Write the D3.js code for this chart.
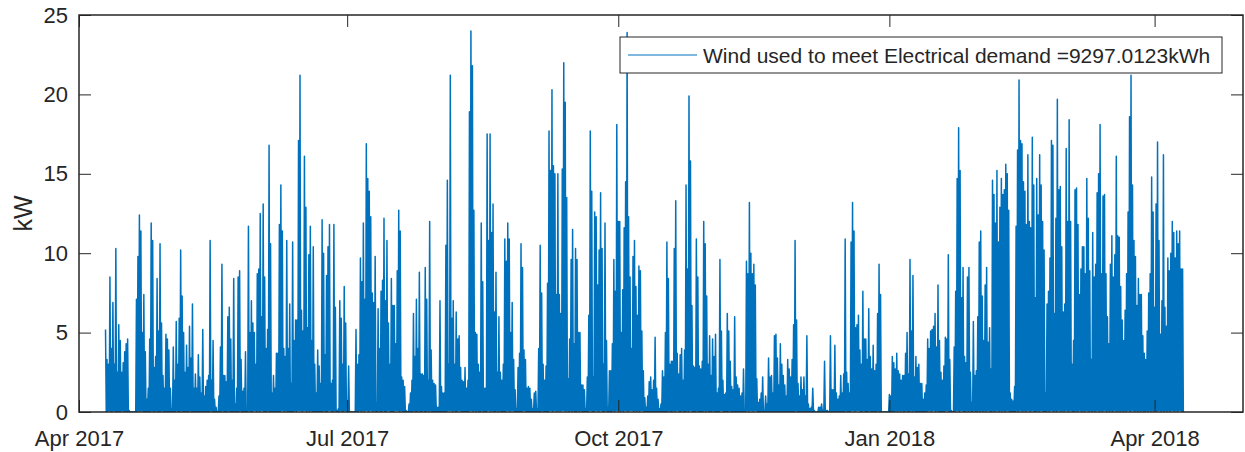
<!DOCTYPE html>
<html>
<head>
<meta charset="utf-8">
<script src="https://cdn.jsdelivr.net/npm/d3@7"></script>
<style>
  body { margin: 0; background: #fff; }
  text { font-family: Arial, "Liberation Sans", Helvetica, sans-serif; fill: #262626; }
</style>
</head>
<body>
<div class="canvas"></div>
<script>
// wind power used for the electrical demand (kW), one value every 6 hours:
// each pair is a half-day peak followed by the dip after it
const apr17 = [5.2,0, 3.3,0, 3.0,0.1, 8.5,0, 4.0,0, 6.9,0.1, 3.0,0, 10.3,0, 2.5,0, 5.5,0,
  4.5,0, 2.5,0.1, 3.1,0, 3.8,0, 4.3,0, 4.6,0, 0.1,0, 0,0, 0,0, 0,0, 0,0, 7.1,0, 9.8,0.1,
  12.4,0, 11.4,0.1, 5.0,0, 7.4,0, 3.8,0, 0.8,0, 1.5,0, 4.6,0, 11.9,0.1, 10.8,0, 2.8,0,
  3.5,0.1, 8.4,0, 5.1,0, 10.6,0, 5.6,0.1, 2.3,0, 1.5,0, 4.9,0]; // from 10 Apr
const may17 = [4.6,0, 3.9,0, 1.5,0, 0.2,0, 4.1,0, 2.0,0, 5.7,0.1, 3.0,0, 5.9,0, 10.2,0.1,
  7.3,0, 5.0,0, 2.5,0, 4.2,0, 2.8,0, 5.4,0.1, 3.4,0, 6.8,0, 1.5,0, 2.4,0, 1.5,0,
  3.6,0, 2.2,0, 1.2,0, 5.2,0, 1.0,0, 1.6,0, 2.0,0, 2.3,0, 10.8,0.1, 2.0,0, 4.5,0,
  0.8,0, 0.3,0, 0,0, 1.0,0, 4.1,0, 9.3,0.1, 2.3,0, 2.3,0, 1.9,0, 6.0,0.1, 6.6,0, 4.6,0,
  2.0,0, 8.4,0, 0.5,0, 1.5,0, 8.5,0, 8.9,0.1, 3.3,0, 1.3,0, 1.5,0, 3.8,0, 0.1,0,
  11.7,0.1, 5.0,0, 7.0,0, 5.6,0.1, 5.0,0.1, 3.0,0, 8.7,0.1];
const jun17 = [9.0,0, 12.5,0.1, 6.0,0.1, 13.1,0, 8.5,0, 4.0,0, 5.2,0.1, 16.8,0, 10.6,0,
  1.2,0, 2.3,0, 1.5,0, 3.7,0, 3.7,0, 11.8,0, 14.3,0.1, 11.4,0.1, 4.0,0, 3.5,0.1, 10.8,0,
  4.0,0, 6.8,0, 1.8,0, 10.7,0, 4.5,0.1, 5.8,0, 5.8,0.1, 17.1,0.1, 21.2,0.1, 6.4,0, 5.1,0.1,
  16.1,0.1, 12.9,0, 5.3,0.1, 9.9,0, 11.7,0.1, 4.5,0, 10.4,0, 3.0,0, 1.2,0, 3.9,0,
  2.9,0, 1.8,0, 12.1,0, 10.0,0.1, 3.6,0, 8.6,0, 10.4,0.1, 11.8,0.1, 1.8,0, 2.0,0,
  11.8,0.1, 6.6,0, 0.1,0, 0.2,0, 7.0,0.1, 5.9,0, 3.0,0, 7.9,0.1, 5.6,0];
const jul17 = [0.7,0, 2.9,0, 0,0, 0,0, 0,0, 0,0, 5.2,0, 3.0,0, 3.6,0.1, 9.7,0, 8.2,0.1,
  11.9,0, 7.1,0.1, 16.9,0.1, 14.7,0, 13.9,0.1, 12.3,0.1, 7.5,0, 6.9,0.1, 9.8,0, 0.6,0,
  6.5,0.1, 4.0,0, 7.6,0, 8.3,0.1, 12.2,0, 7.0,0, 10.8,0.1, 5.6,0.1, 3.0,0, 8.4,0,
  6.7,0, 6.7,0.1, 4.3,0.1, 8.9,0.1, 12.7,0, 11.4,0.1, 2.2,0, 2.0,0, 1.6,0, 0.1,0, 0,0,
  0.5,0, 1.2,0, 2.0,0, 6.2,0.1, 3.5,0, 7.1,0, 4.0,0.1, 8.8,0, 2.4,0, 2.4,0.1, 2.3,0,
  9.1,0, 7.1,0.1, 2.0,0, 12.0,0.1, 3.9,0, 2.0,0, 1.8,0, 1.7,0, 0.3,0];
const aug17 = [0.3,0, 7.0,0, 1.6,0, 1.2,0, 1.2,0, 10.5,0, 14.6,0.1, 3.0,0.1, 21.2,0.1, 5.9,0,
  7.0,0.1, 3.0,0, 6.3,0, 4.6,0.1, 4.8,0.1, 2.8,0, 2.0,0, 1.9,0, 2.8,0, 1.5,0, 2.0,0,
  18.9,0.1, 24.0,0.1, 21.8,0, 12.7,0.1, 5.0,0, 4.9,0.1, 3.0,0, 2.5,0, 11.9,0.1, 8.2,0,
  1.5,0, 1.5,0, 17.5,0.1, 10.8,0.1, 17.5,0, 11.3,0.1, 13.1,0, 6.3,0, 8.8,0.1, 2.5,0,
  6.0,0.1, 2.5,0, 2.0,0, 3.0,0, 10.9,0, 9.5,0.1, 11.9,0.1, 10.9,0, 5.0,0.1, 6.9,0.1,
  3.3,0, 1.4,0, 0.2,0, 2.8,0, 3.7,0, 10.6,0, 9.1,0.1, 3.9,0.1, 3.3,0, 1.5,0, 1.6,0];
const sep17 = [1.5,0, 0.8,0, 0.2,0, 1.2,0, 1.3,0, 0.2,0, 4.0,0, 10.5,0, 7.5,0.1, 3.0,0,
  2.0,0, 2.9,0, 8.1,0, 17.7,0.1, 15.2,0.1, 20.3,0, 15.5,0.1, 15.0,0.1, 7.4,0, 15.0,0.1,
  7.4,0, 6.2,0.1, 15.3,0.1, 22.0,0.1, 19.5,0, 13.5,0.1, 2.1,0, 4.6,0.1, 9.6,0, 11.5,0.1,
  4.3,0, 10.3,0, 9.6,0.1, 5.0,0, 5.0,0.1, 1.7,0, 1.7,0, 1.4,0, 0.2,0, 2.2,0, 6.1,0.1,
  17.7,0.1, 13.9,0, 2.2,0, 12.6,0.1, 12.3,0.1, 8.0,0, 10.2,0.1, 13.8,0.1, 10.3,0, 3.0,0,
  11.9,0.1, 4.5,0, 0.3,0, 2.6,0, 2.6,0, 4.3,0.1, 9.6,0, 7.6,0.1, 18.1,0.1];
const oct17 = [12.0,0.1, 12.0,0, 5.0,0.1, 7.7,0, 11.6,0.1, 14.5,0.1, 23.9,0, 12.3,0.1, 8.5,0.1,
  4.0,0.1, 9.8,0, 10.8,0.1, 7.9,0, 6.1,0.1, 9.2,0, 8.9,0.1, 5.1,0.1, 2.6,0, 0.9,0, 0.3,0,
  1.0,0, 1.9,0, 2.2,0, 1.4,0, 2.0,0, 4.7,0, 1.5,0, 0.8,0, 0.2,0, 0.5,0, 2.6,0, 2.2,0,
  5.0,0, 10.7,0, 8.4,0.1, 3.0,0, 3.2,0, 3.2,0.1, 10.3,0, 13.3,0.1, 3.7,0.1, 2.4,0,
  3.6,0, 4.0,0.1, 2.0,0, 3.9,0, 14.3,0.1, 9.0,0, 19.9,0.1, 15.8,0.1, 6.7,0, 2.9,0,
  2.8,0, 10.9,0.1, 8.5,0, 2.9,0, 2.7,0, 3.2,0, 12.0,0.1, 10.6,0, 7.3,0.1, 3.0,0];
const nov17 = [4.8,0, 2.3,0, 4.6,0.1, 3.5,0, 4.9,0, 1.2,0, 1.5,0, 9.6,0.1, 5.1,0.1, 2.0,0,
  1.1,0, 1.2,0, 6.2,0, 5.1,0.1, 3.2,0, 1.6,0, 1.4,0, 6.0,0, 2.2,0, 1.7,0, 1.5,0, 1.0,0,
  1.2,0, 2.7,0, 0.1,0, 9.5,0.1, 8.7,0, 13.2,0.1, 10.0,0.1, 8.7,0, 9.3,0.1, 8.0,0.1, 2.1,0,
  0.6,0, 0.8,0, 1.2,0, 2.2,0, 0.1,0, 1.0,0, 0.5,0, 3.4,0, 2.2,0, 2.3,0, 1.2,0, 4.8,0,
  4.9,0, 3.4,0, 1.7,0, 4.3,0, 3.0,0, 2.3,0, 1.7,0, 1.0,0, 3.3,0, 2.7,0, 2.2,0,
  3.3,0, 5.5,0, 10.8,0.1, 5.8,0];
const dec17 = [1.8,0, 1.0,0, 2.2,0, 1.4,0, 2.2,0, 1.0,0, 4.8,0, 0.5,0, 0.2,0, 0.3,0, 1.5,0,
  0.1,0, 0,0, 0,0, 0.3,0, 0.3,0, 0.5,0, 0.1,0, 3.2,0, 0.1,0, 0.1,0, 0,0, 4.8,0, 1.4,0, 1.4,0,
  4.2,0, 1.2,0, 0.8,0, 1.0,0, 2.3,0, 1.2,0, 2.4,0, 10.9,0.1, 2.5,0, 1.8,0, 1.2,0,
  10.7,0.1, 13.2,0.1, 11.4,0, 5.3,0.1, 5.5,0.1, 6.1,0.1, 3.9,0, 3.0,0, 7.6,0.1, 4.6,0,
  4.6,0, 3.3,0, 6.5,0.1, 3.5,0, 2.7,0, 4.2,0, 2.6,0, 3.0,0, 6.2,0.1, 9.3,0,
  7.4,0, 0,0, 0,0, 0,0, 0,0, 0,0];
const jan18 = [1.1,0, 1.0,0, 3.5,0, 3.1,0, 2.7,0.1, 3.7,0, 2.6,0.1, 2.4,0, 2.0,0.1,
  2.3,0, 2.3,0, 3.7,0.1, 5.0,0, 2.4,0, 9.6,0.1, 5.1,0, 8.6,0.1, 2.2,0, 3.5,0, 2.8,0,
  3.0,0, 1.8,0, 1.8,0, 0.8,0, 1.2,0, 1.7,0, 4.6,0.1, 4.0,0.1, 5.1,0, 5.2,0.1, 5.4,0.1,
  6.2,0, 4.1,0.1, 8.0,0, 4.5,0, 2.5,0, 2.0,0, 2.9,0, 4.7,0.1, 4.6,0.1, 9.9,0, 3.3,0,
  0.1,0, 0,0, 4.1,0, 7.6,0.1, 14.7,0.1, 17.9,0, 15.2,0.1, 7.2,0.1, 9.1,0, 3.5,0, 3.1,0.1,
  8.5,0, 9.1,0.1, 2.5,0, 0.6,0, 5.7,0.1, 2.3,0, 2.6,0, 6.0,0.1, 10.7,0];
const feb18 = [11.4,0.1, 7.3,0, 4.5,0.1, 8.0,0, 9.1,0.1, 4.4,0.1, 5.3,0, 2.7,0, 14.6,0.1,
  13.7,0, 11.9,0.1, 15.2,0.1, 10.7,0, 12.9,0.1, 14.7,0, 13.7,0.1, 14.0,0, 15.6,0.1, 15.0,0.1,
  12.7,0, 1.2,0, 0.8,0, 0.7,0, 1.6,0, 11.7,0.1, 16.5,0, 20.9,0.1, 17.1,0.1, 16.9,0,
  14.5,0.1, 13.9,0, 11.8,0.1, 16.2,0.1, 12.0,0, 11.6,0.1, 17.3,0.1, 14.3,0, 7.2,0, 14.7,0.1,
  12.4,0, 16.2,0.1, 14.3,0.1, 12.0,0, 10.2,0, 1.2,0, 6.8,0.1, 7.6,0, 9.7,0.1, 17.1,0.1,
  16.8,0, 6.2,0.1, 12.2,0, 19.7,0.1, 14.0,0.1, 14.2,0, 10.4,0.1];
const mar18 = [6.3,0, 6.8,0.1, 16.6,0.1, 12.0,0, 18.4,0.1, 12.0,0.1, 3.0,0, 4.5,0, 14.0,0.1,
  14.1,0, 11.8,0.1, 7.4,0.1, 9.0,0, 10.4,0.1, 10.4,0, 8.7,0.1, 14.7,0.1, 12.2,0, 8.9,0.1,
  3.3,0, 11.3,0.1, 8.5,0, 9.3,0.1, 13.8,0.1, 15.0,0, 18.1,0.1, 8.7,0, 13.6,0.1, 13.7,0.1,
  8.7,0, 6.0,0.1, 4.3,0, 9.3,0.1, 11.1,0, 8.5,0.1, 9.9,0.1, 16.1,0, 11.1,0.1, 11.0,0,
  7.9,0.1, 5.8,0, 4.5,0.1, 6.4,0, 8.7,0.1, 12.6,0.1, 18.6,0, 21.2,0.1, 14.3,0.1, 10.8,0,
  9.8,0.1, 6.7,0, 8.4,0.1, 7.4,0, 7.4,0.1, 4.8,0, 3.7,0, 3.3,0.1, 5.1,0, 7.5,0.1,
  8.7,0, 14.8,0.1, 12.6,0];
const apr18 = [6.6,0.1, 13.1,0, 17.0,0.1, 10.8,0.1, 4.9,0, 7.0,0.1, 16.2,0, 6.6,0.1, 5.4,0,
  9.7,0.1, 8.9,0, 10.0,0.1, 12.0,0.1, 11.3,0, 9.7,0.1, 11.4,0, 10.6,0.1, 11.4,0.1, 9.0,0, 9.0,0];

const monthStarts = ['2017-04-10', '2017-05-01', '2017-06-01', '2017-07-01', '2017-08-01', '2017-09-01',
  '2017-10-01', '2017-11-01', '2017-12-01', '2018-01-01', '2018-02-01', '2018-03-01', '2018-04-01'];
const monthValues = [apr17, may17, jun17, jul17, aug17, sep17, oct17, nov17, dec17, jan18, feb18, mar18, apr18];

const xTickDates = ['2017-04-01', '2017-07-01', '2017-10-01', '2018-01-01', '2018-04-01'];
const xTickLabels = ['Apr 2017', 'Jul 2017', 'Oct 2017', 'Jan 2018', 'Apr 2018'];
const yTicks = [0, 5, 10, 15, 20, 25];
const legendLabel = 'Wind used to meet Electrical demand =9297.0123kWh';

const parse = d3.timeParse('%Y-%m-%d');
const step = 6 * 3600 * 1000;

const data = [];
monthValues.forEach((vals, m) => {
    const t0 = parse(monthStarts[m]).getTime();
    vals.forEach((v, i) => data.push({ t: new Date(t0 + i * step), v: v }));
});

// plot box in pixels
const box = { left: 79, right: 1243, top: 15, bottom: 412 };

const svg = d3.select('.canvas')
    .append('svg')
    .attr('width', 1245)
    .attr('height', 452);

const x = d3.scaleTime()
    .domain([parse('2017-04-01'), parse('2018-05-01')])
    .range([box.left, box.right]);

const y = d3.scaleLinear()
    .domain([0, 25])
    .range([box.bottom, box.top]);

svg.append('clipPath').attr('id', 'plot')
    .append('rect')
    .attr('x', box.left).attr('y', box.top)
    .attr('width', box.right - box.left).attr('height', box.bottom - box.top);

// the wind series
const line = d3.line()
    .x(d => x(d.t))
    .y(d => y(d.v));

svg.append('path')
    .datum(data)
    .attr('clip-path', 'url(#plot)')
    .attr('fill', 'none')
    .attr('stroke', '#0072BD')
    .attr('stroke-width', 1.5)
    .attr('stroke-linejoin', 'round')
    .attr('d', line);

// axes, MATLAB style: ticks pointing inwards on all four sides
const xt = xTickDates.map(parse);
const xAxis = d3.axisBottom(x).tickValues(xt)
    .tickFormat((d, i) => xTickLabels[i])
    .tickSize(-12).tickSizeOuter(0).tickPadding(18);
const xAxisTop = d3.axisTop(x).tickValues(xt).tickFormat('')
    .tickSize(-12).tickSizeOuter(0);
const yAxis = d3.axisLeft(y).tickValues(yTicks)
    .tickSize(-12).tickSizeOuter(0).tickPadding(11);
const yAxisRight = d3.axisRight(y).tickValues(yTicks).tickFormat('')
    .tickSize(-12).tickSizeOuter(0);

const axes = [
    [xAxis, `translate(0, ${box.bottom})`],
    [xAxisTop, `translate(0, ${box.top})`],
    [yAxis, `translate(${box.left}, 0)`],
    [yAxisRight, `translate(${box.right}, 0)`]
];
axes.forEach(([ax, tr]) => {
    const g = svg.append('g').attr('transform', tr).call(ax);
    g.select('.domain').remove();
    g.selectAll('line').attr('stroke', '#262626');
    g.selectAll('text')
        .attr('font-size', 22)
        .attr('font-family', 'Arial, "Liberation Sans", Helvetica, sans-serif')
        .attr('fill', '#262626');
});

svg.append('rect')
    .attr('x', box.left).attr('y', box.top)
    .attr('width', box.right - box.left).attr('height', box.bottom - box.top)
    .attr('fill', 'none')
    .attr('stroke', '#262626')
    .attr('stroke-width', 1.5);

svg.append('text')
    .attr('transform', `translate(32, ${(box.top + box.bottom) / 2}) rotate(-90)`)
    .attr('text-anchor', 'middle')
    .attr('font-size', 25)
    .text('kW');

// legend
const legend = svg.append('g');
legend.append('rect')
    .attr('x', 620).attr('y', 37)
    .attr('width', 602).attr('height', 36)
    .attr('fill', '#fff')
    .attr('stroke', '#262626')
    .attr('stroke-width', 1);
legend.append('line')
    .attr('x1', 628).attr('x2', 697)
    .attr('y1', 55).attr('y2', 55)
    .attr('stroke', '#0072BD')
    .attr('stroke-width', 1);
legend.append('text')
    .attr('x', 703).attr('y', 55)
    .attr('dominant-baseline', 'central')
    .attr('font-size', 21)
    .text(legendLabel);
</script>
</body>
</html>
